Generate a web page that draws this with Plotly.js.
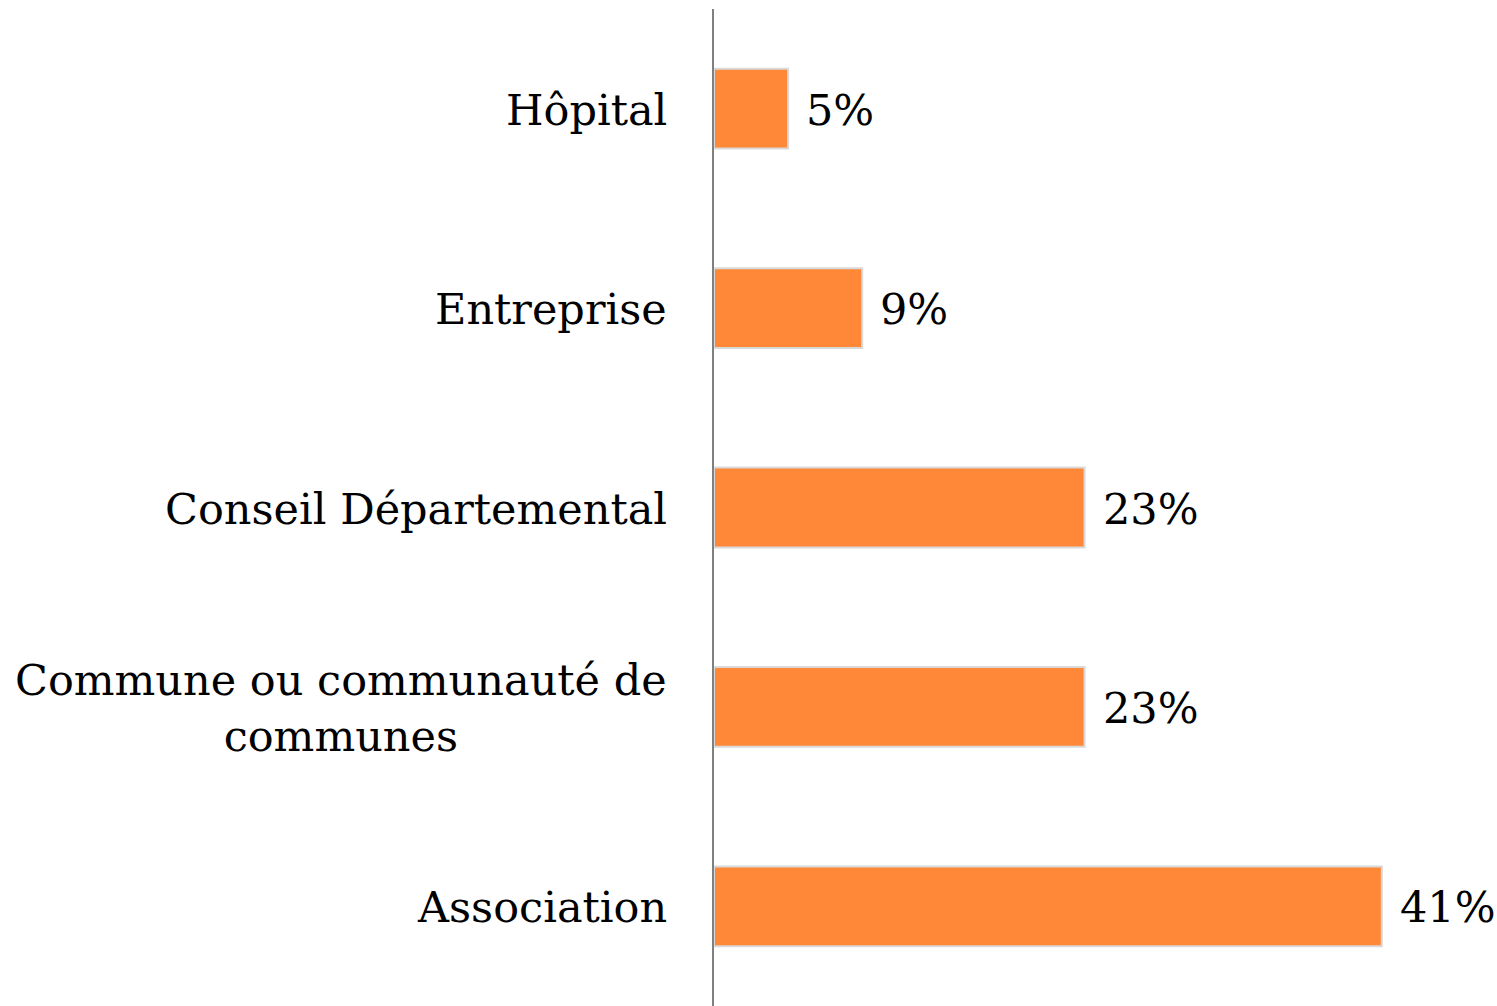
<!DOCTYPE html>
<html>
<head>
<meta charset="utf-8">
<script src="https://cdn.plot.ly/plotly-3.0.1.min.js"></script>
<style>html,body{margin:0;padding:0;background:#fff;}#chart{width:1497px;height:1006px;}</style>
</head>
<body>
<div id="chart"></div>
<script>
// Categories from bottom to top
const categories = ["Association", "Commune ou communauté de<br>communes", "Conseil Départemental", "Entreprise", "Hôpital"];
const values = [41.0, 22.75, 22.75, 9.1, 4.55];
const valueLabels = ["41%", "23%", "23%", "9%", "5%"];

const FONT = "DejaVu Serif, Liberation Serif, serif";

const trace = {
  type: "bar",
  orientation: "h",
  y: categories,
  x: values,
  marker: { color: "#FF8838", line: { color: "#D9D9D9", width: 2 } },
  hoverinfo: "none"
};

const annotations = [];
categories.forEach((c, i) => {
  annotations.push({
    xref: "paper", yref: "y", x: 0, y: c,
    text: c, showarrow: false, xanchor: "right", yanchor: "middle",
    align: "center", xshift: -45, yshift: -1,
    font: { family: FONT, size: 43, color: "#000" }
  });
  annotations.push({
    xref: "x", yref: "y", x: values[i], y: c,
    text: valueLabels[i], showarrow: false, xanchor: "left", yanchor: "middle",
    xshift: 16, yshift: -1,
    font: { family: FONT, size: 43, color: "#000" }
  });
});

const layout = {
  width: 1497, height: 1006,
  margin: { l: 714, r: 50, t: 9, b: 0, pad: 0 },
  paper_bgcolor: "#fff", plot_bgcolor: "#fff",
  showlegend: false,
  bargap: 0.6,
  xaxis: {
    range: [0, 45], showgrid: false, zeroline: false, showticklabels: false,
    showline: false, ticks: ""
  },
  yaxis: {
    categoryorder: "array", categoryarray: categories,
    showgrid: false, zeroline: false, showticklabels: false, ticks: "",
    showline: true, linecolor: "#808080", linewidth: 2
  },
  annotations: annotations,
  font: { family: FONT }
};

Plotly.newPlot("chart", [trace], layout, { displayModeBar: false, staticPlot: true });
</script>
</body>
</html>
